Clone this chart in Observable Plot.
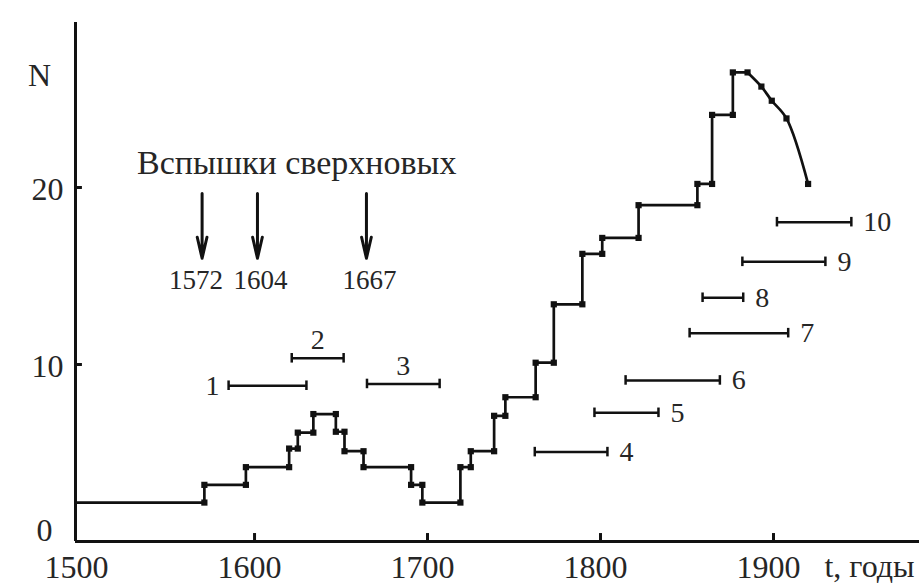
<!DOCTYPE html>
<html>
<head>
<meta charset="utf-8">
<script src="https://cdn.jsdelivr.net/npm/d3@7"></script>
<script src="https://cdn.jsdelivr.net/npm/@observablehq/plot@0.6"></script>
<style>
  html, body { margin: 0; padding: 0; background: #fff; }
  svg { display: block; }
  svg text { font-family: "Liberation Serif", "DejaVu Serif", "Noto Serif", "Times New Roman", serif !important; }
</style>
</head>
<body>
<div id="chart"></div>
<script>
// ---- Data ----
// step curve: year where each level starts, and the level N
const stepYears  = [1497, 1571, 1595, 1620, 1625, 1634, 1647, 1652, 1663, 1690.5, 1697, 1719, 1725, 1738.5, 1745, 1762.5, 1773, 1789.5, 1801, 1822, 1856, 1864.5, 1876.5, 1885];
const stepLevels = [2.2, 3.2, 4.2, 5.25, 6.15, 7.2, 6.2, 5.1, 4.2, 3.2, 2.2, 4.2, 5.1, 7.1, 8.15, 10.1, 13.4, 16.25, 17.15, 19.0, 20.2, 24.1, 26.5, 26.5];
// smooth decline at the end
const tailYears  = [1885, 1893, 1899, 1907.5, 1920];
const tailLevels = [26.5, 25.7, 24.9, 23.9, 20.2];

// numbered intervals 1..10
const rangeLabels = ["1", "2", "3", "4", "5", "6", "7", "8", "9", "10"];
const rangeStart  = [1585, 1621.5, 1665, 1762, 1796.5, 1814.5, 1851.5, 1859, 1882, 1902];
const rangeEnd    = [1630, 1651.5, 1707, 1804, 1833.5, 1869, 1908.5, 1882.5, 1930, 1945];
const rangeLevel  = [8.8, 10.35, 8.9, 5.05, 7.27, 9.1, 11.77, 13.77, 15.8, 18.04];

// supernova flashes
const supernovaYears = [1572, 1604, 1667];
const supernovaTitle = "Вспышки сверхновых";

// axes
const xTicks = [1500, 1600, 1700, 1800, 1900];
const yTicks = [10, 20];
const xLabel = "t, годы";
const yLabel = "N";

// ---- Derived tables ----
const steps = stepYears.map((x, i) => ({x, y: stepLevels[i]}));
const tail = tailYears.map((x, i) => ({x, y: tailLevels[i]}));
const corners = [];
for (let i = 1; i < steps.length; i++) {
  if (steps[i].y !== steps[i - 1].y) corners.push({x: steps[i].x, y: steps[i - 1].y});
  corners.push({x: steps[i].x, y: steps[i].y});
}
tail.slice(1).forEach(d => corners.push(d));
const ranges = rangeLabels.map((label, i) => ({label, i, x1: rangeStart[i], x2: rangeEnd[i], y: rangeLevel[i]}));
const caps = ranges.flatMap(d => [{x: d.x1, y: d.y}, {x: d.x2, y: d.y}]);
const flashes = supernovaYears.map(x => ({x, label: String(x)}));

const X0 = 1496.5, X1 = 1984.4;
const serif = "Liberation Serif, DejaVu Serif, serif";
const ink = "#111";
const textInk = "#262626";

const chart = Plot.plot({
  width: 919,
  height: 584,
  marginLeft: 75,
  marginRight: 0,
  marginTop: 22,
  marginBottom: 43,
  style: {fontFamily: serif, fontSize: "30px", color: textInk, background: "#fff"},
  x: {domain: [X0, X1], axis: null},
  y: {domain: [0, 29.32], axis: null},
  marks: [
    // axis lines
    Plot.ruleX([X0], {stroke: ink, strokeWidth: 3}),
    Plot.ruleY([0], {stroke: ink, strokeWidth: 3}),
    // inward tick marks
    Plot.ruleX(xTicks.slice(1), {x: d => d, y1: 0, y2: 0.45, stroke: ink, strokeWidth: 3}),
    Plot.ruleY(yTicks, {y: d => d, x1: X0, x2: X0 + 4, stroke: ink, strokeWidth: 3}),
    // tick labels
    Plot.axisX({ticks: xTicks, tickFormat: d => String(d), label: null, tickSize: 0, tickPadding: 14, dx: -5, fontSize: 32, fill: textInk}),
    Plot.axisY({ticks: yTicks, tickFormat: d => String(d), label: null, tickSize: 0, tickPadding: 12, dy: 2, fontSize: 32, fill: textInk}),
    Plot.text(["0"], {frameAnchor: "bottom-left", textAnchor: "end", lineAnchor: "middle", dx: -23, dy: -11, fontSize: 32, fill: textInk}),
    Plot.text([yLabel], {frameAnchor: "top-left", textAnchor: "middle", lineAnchor: "middle", dx: -36, dy: 53, fontSize: 32, fill: textInk}),
    Plot.text([xLabel], {frameAnchor: "bottom-right", textAnchor: "end", lineAnchor: "middle", dx: -5, dy: 25, fontSize: 32, fill: textInk}),

    // step curve
    Plot.line(steps, {x: "x", y: "y", curve: "step-after", stroke: ink, strokeWidth: 2.7}),
    Plot.line(tail, {x: "x", y: "y", curve: "catmull-rom", stroke: ink, strokeWidth: 2.7}),
    Plot.dot(corners, {x: "x", y: "y", symbol: "square", r: 3.5, fill: ink, stroke: "none"}),

    // intervals
    Plot.ruleY(ranges, {y: "y", x1: "x1", x2: "x2", stroke: ink, strokeWidth: 2.5}),
    Plot.ruleX(caps, {x: "x", y1: d => d.y - 0.27, y2: d => d.y + 0.27, stroke: ink, strokeWidth: 2.5}),
    Plot.text(ranges.filter(d => d.i === 0), {x: "x1", y: "y", text: "label", textAnchor: "end", dx: -9, fontSize: 28, fill: textInk}),
    Plot.text(ranges.filter(d => d.i === 1 || d.i === 2), {x: d => (d.x1 + d.x2) / 2, y: "y", text: "label", dy: -18, fontSize: 28, fill: textInk}),
    Plot.text(ranges.filter(d => d.i >= 3), {x: "x2", y: "y", text: "label", textAnchor: "start", dx: 12, fontSize: 28, fill: textInk}),

    // supernova annotation
    Plot.text([supernovaTitle], {x: 1624.4, y: 21.35, fontSize: 34, fill: textInk}),
    Plot.arrow(flashes, {x1: "x", x2: "x", y1: 19.66, y2: 16.0, dx: -4, stroke: ink, strokeWidth: 3, headLength: 24, headAngle: 26}),
    Plot.text(flashes.slice(0, 1), {x: "x", y: 14.75, text: "label", dx: -10, fontSize: 27, fill: textInk}),
    Plot.text(flashes.slice(1), {x: "x", y: 14.75, text: "label", dx: -1, fontSize: 27, fill: textInk})
  ]
});
document.getElementById("chart").append(chart);
</script>
</body>
</html>
